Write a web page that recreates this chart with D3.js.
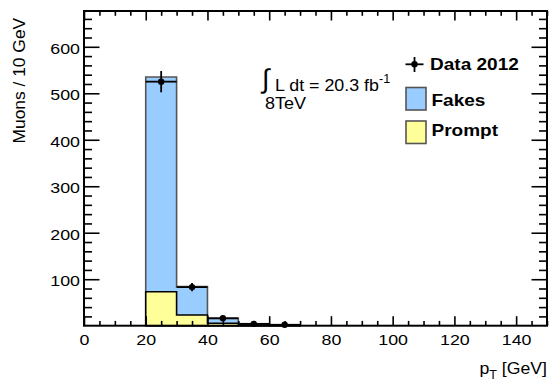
<!DOCTYPE html>
<html>
<head>
<meta charset="utf-8">
<script src="https://cdn.jsdelivr.net/npm/d3@7"></script>
<style>
  body { margin: 0; background: #fff; }
  svg { display: block; }
  text { font-family: "Liberation Sans", Arial, Helvetica, sans-serif; fill: #000; }
</style>
</head>
<body>
<svg id="chart" width="550" height="383"></svg>
<script>
// Muon pT distribution, 10 GeV bins
const binEdges = [20, 30, 40, 50, 60, 70];
const promptCounts = [73, 23, 5.3, 1, 0.5];
const fakesCounts = [462, 61, 10.5, 3, 1.2];
const dataCounts = [525, 83, 16, 4, 2];

const xMajorTicks = [0, 20, 40, 60, 80, 100, 120, 140];
const yMajorTicks = [100, 200, 300, 400, 500, 600];

const xDomain = [0, 150];
const yDomain = [0, 677];

const svg = d3.select("#chart");
const W = 550, H = 383;
const plot = { left: 84, right: 547, top: 11, bottom: 325.7 };

svg.append("rect").attr("width", W).attr("height", H).attr("fill", "#fff");

const x = d3.scaleLinear().domain(xDomain).range([plot.left, plot.right]);
const y = d3.scaleLinear().domain(yDomain).range([plot.bottom, plot.top]);

const xMinor = d3.range(xDomain[0], xDomain[1] + 0.001, 5).filter(v => v % 20 !== 0);
const yMinor = d3.range(0, yDomain[1], 20).filter(v => v % 100 !== 0);

// wide-set lettering: stretch a text horizontally about its anchor
function stretch(sel, sx) {
  sel.each(function () {
    const t = d3.select(this);
    const ax = +t.attr("x") || 0;
    t.attr("transform", `translate(${ax},0) scale(${sx},1) translate(${-ax},0)`);
  });
}

// stacked histogram: prompt at bottom, fakes on top
const bins = binEdges.slice(0, -1).map((lo, i) => ({
  lo, hi: binEdges[i + 1],
  prompt: promptCounts[i],
  total: promptCounts[i] + fakesCounts[i],
  data: dataCounts[i]
}));

function stepPoints(key) {
  const pts = [[bins[0].lo, 0]];
  bins.forEach(b => { pts.push([b.lo, b[key]]); pts.push([b.hi, b[key]]); });
  pts.push([bins[bins.length - 1].hi, 0]);
  return pts;
}
const stepLine = d3.line().x(d => x(d[0])).y(d => y(d[1]));

const hist = svg.append("g");
hist.append("path").attr("d", stepLine(stepPoints("total")) + "Z")
  .attr("fill", "#99ccff").attr("stroke", "#555").attr("stroke-width", 1.6);
hist.append("path").attr("d", stepLine(stepPoints("prompt")) + "Z")
  .attr("fill", "#ffff99").attr("stroke", "#000").attr("stroke-width", 1.6);

// data points with statistical errors
const pts = svg.append("g");
bins.forEach(b => {
  const cx = x((b.lo + b.hi) / 2), cy = y(b.data);
  const err = Math.sqrt(b.data);
  pts.append("line").attr("x1", x(b.lo)).attr("x2", x(b.hi)).attr("y1", cy).attr("y2", cy)
    .attr("stroke", "#000").attr("stroke-width", 1.8);
  pts.append("line").attr("x1", cx).attr("x2", cx).attr("y1", y(b.data + err)).attr("y2", Math.min(y(b.data - err), plot.bottom))
    .attr("stroke", "#000").attr("stroke-width", 1.8);
  pts.append("circle").attr("cx", cx).attr("cy", cy).attr("r", 3.2).attr("fill", "#000");
});

// axes and frame
function styleAxis(g) {
  g.select(".domain").remove();
  g.selectAll(".tick line").attr("stroke", "#000").attr("stroke-width", 1.6);
  g.selectAll("text").attr("fill", "#000");
}
const fontTick = 15.5;
const tickStretch = 1.15;

svg.append("g").attr("transform", `translate(0,${plot.bottom})`)
  .call(d3.axisBottom(x).tickValues(xMajorTicks).tickSizeInner(-9.5).tickSizeOuter(0).tickPadding(6))
  .call(styleAxis)
  .call(g => g.selectAll("text").attr("font-size", fontTick).attr("font-family", null).attr("dy", "0.78em").attr("y", 7))
  .call(g => stretch(g.selectAll("text"), tickStretch));
svg.append("g").attr("transform", `translate(0,${plot.bottom})`)
  .call(d3.axisBottom(x).tickValues(xMinor).tickSizeInner(-4.8).tickSizeOuter(0).tickFormat(""))
  .call(styleAxis);
svg.append("g").attr("transform", `translate(0,${plot.top})`)
  .call(d3.axisTop(x).tickValues(xMajorTicks).tickSizeInner(-9.5).tickSizeOuter(0).tickFormat(""))
  .call(styleAxis);
svg.append("g").attr("transform", `translate(0,${plot.top})`)
  .call(d3.axisTop(x).tickValues(xMinor).tickSizeInner(-4.8).tickSizeOuter(0).tickFormat(""))
  .call(styleAxis);

svg.append("g").attr("transform", `translate(${plot.left},0)`)
  .call(d3.axisLeft(y).tickValues(yMajorTicks).tickSizeInner(-15.5).tickSizeOuter(0).tickPadding(4))
  .call(styleAxis)
  .call(g => g.selectAll("text").attr("font-size", fontTick).attr("font-family", null).attr("dy", "0.42em"))
  .call(g => stretch(g.selectAll("text"), tickStretch));
svg.append("g").attr("transform", `translate(${plot.left},0)`)
  .call(d3.axisLeft(y).tickValues(yMinor).tickSizeInner(-8).tickSizeOuter(0).tickFormat(""))
  .call(styleAxis);
svg.append("g").attr("transform", `translate(${plot.right},0)`)
  .call(d3.axisRight(y).tickValues(yMajorTicks).tickSizeInner(-15.5).tickSizeOuter(0).tickFormat(""))
  .call(styleAxis);
svg.append("g").attr("transform", `translate(${plot.right},0)`)
  .call(d3.axisRight(y).tickValues(yMinor).tickSizeInner(-8).tickSizeOuter(0).tickFormat(""))
  .call(styleAxis);

svg.append("rect").attr("x", plot.left).attr("y", plot.top)
  .attr("width", plot.right - plot.left).attr("height", plot.bottom - plot.top)
  .attr("fill", "none").attr("stroke", "#000").attr("stroke-width", 2);

// axis titles
svg.append("text").attr("transform", "translate(25,143.5) rotate(-90)")
  .attr("font-size", 17.4).text("Muons / 10 GeV");

const xt = svg.append("text").attr("x", 547).attr("y", 374).attr("text-anchor", "end").attr("font-size", 17);
xt.append("tspan").text("p");
xt.append("tspan").attr("font-size", 12).attr("dy", 5).text("T");
xt.append("tspan").attr("dy", -5).text(" [GeV]");
stretch(xt, 1.04);

// luminosity label
svg.append("text").attr("x", 262).attr("y", 88).attr("font-size", 27).text("\u222B");
const lum = svg.append("text").attr("x", 275).attr("y", 91).attr("font-size", 17);
lum.append("tspan").text("L dt = 20.3 fb");
lum.append("tspan").attr("font-size", 12).attr("dy", -8).text("-1");
stretch(lum, 1.05);
const energy = svg.append("text").attr("x", 265).attr("y", 109).attr("font-size", 17).text("8TeV");
stretch(energy, 1.06);

// legend
const lg = svg.append("g");
lg.append("line").attr("x1", 405.5).attr("x2", 423.5).attr("y1", 64.3).attr("y2", 64.3).attr("stroke", "#000").attr("stroke-width", 1.8);
lg.append("line").attr("x1", 414.5).attr("x2", 414.5).attr("y1", 57).attr("y2", 72).attr("stroke", "#000").attr("stroke-width", 1.8);
lg.append("circle").attr("cx", 414.5).attr("cy", 64.3).attr("r", 3.2).attr("fill", "#000");
lg.append("text").attr("x", 430).attr("y", 70.5).attr("font-size", 17).attr("font-weight", "bold").text("Data 2012");

lg.append("rect").attr("x", 406).attr("y", 87.5).attr("width", 20).attr("height", 22.5)
  .attr("fill", "#99ccff").attr("stroke", "#555").attr("stroke-width", 1.6);
lg.append("text").attr("x", 431.5).attr("y", 106).attr("font-size", 17).attr("font-weight", "bold").text("Fakes");

lg.append("rect").attr("x", 406).attr("y", 121).attr("width", 20).attr("height", 22.5)
  .attr("fill", "#ffff99").attr("stroke", "#555").attr("stroke-width", 1.6);
lg.append("text").attr("x", 431.5).attr("y", 136).attr("font-size", 17).attr("font-weight", "bold").text("Prompt");
stretch(lg.selectAll("text"), 1.12);
</script>
</body>
</html>
